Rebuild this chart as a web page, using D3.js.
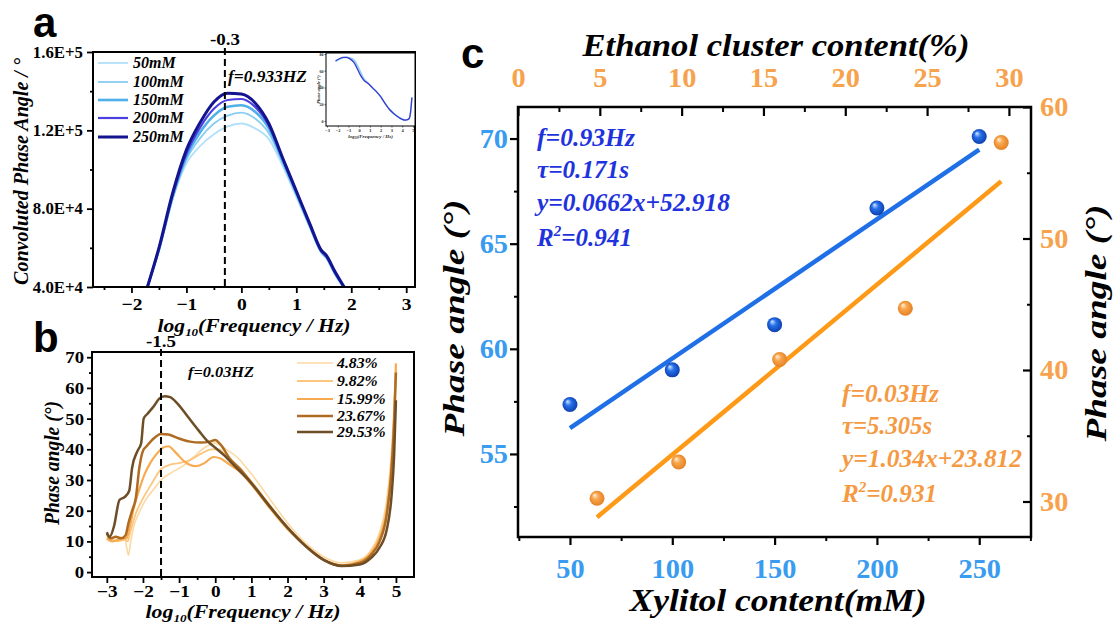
<!DOCTYPE html>
<html>
<head>
<meta charset="utf-8">
<script src="https://cdn.jsdelivr.net/npm/d3@7/dist/d3.min.js"></script>
<style>
html,body{margin:0;padding:0;background:#fff;}
svg{display:block;}
</style>
</head>
<body>
<svg id="fig" width="1117" height="624"></svg>
<script>
// ================= DATA =================
// Panel a : convoluted phase angle vs log10 f
const aNames = ['50mM','100mM','150mM','200mM','250mM'];
const aLogF  = [-2.0,-1.71,-1.5,-1.25,-1.0,-0.75,-0.5,-0.25,0,0.25,0.5,0.75,1.0,1.25,1.45,1.55,1.7,1.87,2.1];
const a50mM  = [15000,40000,58500,85000,103000,112000,118000,122000,123500,121000,115500,102000,86000,70000,57500,54500,46500,39000,28000];
const a100mM = [15000,40000,59000,85500,105000,116000,123500,127500,129000,126000,118500,103500,87000,70500,58000,55000,47000,39300,28000];
const a150mM = [15000,40000,59000,86000,106500,119000,127500,132000,132800,129500,121000,104500,88000,71000,58200,55200,47200,39500,28000];
const a200mM = [15000,40000,59500,87000,108000,121500,131000,135500,136000,132000,122500,105500,88500,71500,58500,55500,47500,39700,28000];
const a250mM = [15000,40000,60000,88000,110000,124000,134500,139000,138500,134000,123500,106000,89000,72000,59000,56000,48000,40000,28000];
const aYTicks  = [40000,80000,120000,160000];
const aYLabels = ['4.0E+4','8.0E+4','1.2E+5','1.6E+5'];
const aYMinor  = [60000,100000,140000];
const aXTicks  = [-2,-1,0,1,2,3];
const aXMinor  = [-2.5,-1.5,-0.5,0.5,1.5,2.5];
const aMarker  = -0.3;

// Panel a inset
const insetLogF  = [-2.2,-1.9,-1.5,-1.2,-0.9,-0.5,-0.2,0.1,0.4,0.8,1.2,1.6,2.0,2.4,2.8,3.2,3.6,4.0,4.3,4.5,4.65,4.75,4.85,4.9];
const insetLight = [71,73.5,75.5,76,75.5,73,67,59,51,45.5,40,35,29,21,14,9,5,2,1,1.5,3,8,20,28];
const insetDark  = [72,74,76,76,74.5,70,63,55,49,45,40,35,29,21,14,9,5,2,1,1.5,3,8,20,28];
const insetXTicks = [-3,-2,-1,0,1,2,3,4,5];
const insetYTicks = [0,20,40,60,80];

// Panel b : phase angle vs log10 f
const bNames = ['4.83%','9.82%','15.99%','23.67%','29.53%'];
const b483  = [[-3,12],[-2.85,11],[-2.65,11.5],[-2.5,11],[-2.45,8],[-2.4,5.5],[-2.35,9],[-2.25,15],[-2.1,19.5],[-1.9,24],[-1.7,27],[-1.5,30],[-1.2,32.5],[-0.9,34.5],[-0.6,37.5],[-0.3,40.5],[0,42],[0.3,40],[0.6,37.5],[1,32],[1.5,24],[2,16],[2.5,9.5],[3,5],[3.5,3],[4,4],[4.3,7],[4.55,13],[4.75,24],[4.87,38],[4.95,55],[5,67]];
const b982  = [[-3,11.5],[-2.85,10.5],[-2.7,10],[-2.5,10.5],[-2.42,10],[-2.35,13],[-2.2,19],[-2.0,24],[-1.8,28],[-1.5,33.5],[-1.25,35],[-1.0,35.5],[-0.7,36.5],[-0.4,38.5],[-0.1,40],[0.1,40],[0.35,37],[0.7,33.5],[1,29.5],[1.5,22],[2,14.5],[2.5,8.5],[3,4],[3.5,2.3],[4,3.5],[4.3,6.5],[4.55,12],[4.75,22],[4.87,36],[4.95,52],[5,66]];
const b1599 = [[-3,11],[-2.85,10],[-2.7,10.5],[-2.55,11],[-2.45,11],[-2.38,14],[-2.25,21],[-2.1,27],[-1.95,32],[-1.8,35.5],[-1.62,38.5],[-1.45,40.5],[-1.3,41],[-1.1,39],[-0.85,36],[-0.55,34.5],[-0.3,35.5],[-0.05,37.5],[0.15,37],[0.4,35],[0.7,32.5],[1,28.5],[1.5,21],[2,14],[2.5,8.5],[3,4],[3.5,2.2],[4,3.5],[4.3,6],[4.55,11],[4.75,20],[4.87,33],[4.95,50],[5,68]];
const b2367 = [[-3,12.5],[-2.9,11],[-2.75,11.5],[-2.6,11],[-2.48,12],[-2.4,16],[-2.3,20],[-2.2,24],[-2.1,34],[-2,39.5],[-1.9,41],[-1.75,43],[-1.5,45],[-1.3,44.8],[-1.0,43.5],[-0.7,42.5],[-0.4,42.2],[-0.15,42.5],[0,43],[0.15,41.5],[0.4,37],[0.7,33.5],[1,29],[1.5,21.5],[2,14.5],[2.5,8.5],[3,4],[3.5,2.1],[4,3],[4.3,5.5],[4.55,10],[4.75,19],[4.87,32],[4.95,48],[5,65]];
const b2953 = [[-3,13],[-2.92,11.5],[-2.8,15],[-2.65,23.5],[-2.5,24.5],[-2.38,26.5],[-2.3,34],[-2.15,39.5],[-2.05,42],[-1.98,50],[-1.88,51.5],[-1.7,54],[-1.55,56.5],[-1.4,57.3],[-1.25,57],[-1.05,55],[-0.75,50.5],[-0.45,46],[-0.2,42.5],[0,40.5],[0.25,38],[0.5,35],[1,29],[1.5,21.5],[2,14.5],[2.5,8.5],[3,4],[3.5,2],[4,2.5],[4.3,4.5],[4.55,8],[4.75,14],[4.88,25],[4.95,38],[5,56]];
const bYTicks = [0,10,20,30,40,50,60,70];
const bYMinor = [5,15,25,35,45,55,65];
const bXTicks = [-3,-2,-1,0,1,2,3,4,5];
const bXMinor = [-2.5,-1.5,-0.5,0.5,1.5,2.5,3.5,4.5];
const bMarker = -1.5;

// Panel c : phase angle vs content
const xylitol      = [50,100,150,200,250];
const phaseXylitol = [57.35,59.0,61.15,66.7,70.1];
const ethanol      = [4.83,9.82,15.99,23.67,29.53];
const phaseEthanol = [30.25,33.0,40.8,44.7,57.3];
const fitXylitol   = [0.0662,52.918];   // slope, intercept
const fitEthanol   = [1.034,23.812];
const cBottomTicks = [50,100,150,200,250];
const cBottomMinor = [25,75,125,175,225,275];
const cTopTicks    = [0,5,10,15,20,25,30];
const cTopMinor    = [2.5,7.5,12.5,17.5,22.5,27.5];
const cLeftTicks   = [55,60,65,70];
const cLeftMinor   = [52.5,57.5,62.5,67.5];
const cRightTicks  = [30,40,50,60];
const cRightMinor  = [35,45,55];
const cBlueText    = ['f=0.93Hz','τ=0.171s','y=0.0662x+52.918','R2=0.941'];
const cOrangeText  = ['f=0.03Hz','τ=5.305s','y=1.034x+23.812','R2=0.931'];

// ================= DRAWING =================
const svg = d3.select('#fig');
const SERIF = '"Liberation Serif","Times New Roman",serif';
const SANS  = '"Liberation Sans",Arial,sans-serif';
const defs = svg.append('defs');

function widen(sel, k){
  sel.each(function(){
    const L = this.getComputedTextLength();
    this.setAttribute('textLength', L*k);
    this.setAttribute('lengthAdjust','spacingAndGlyphs');
  });
  return sel;
}
function styleTicks(g, size, color, k, w){
  g.attr('font-family',null).attr('font-size',null);
  g.select('.domain').remove();
  g.selectAll('.tick line').attr('stroke','#000').attr('stroke-width', w||1.8);
  const t = g.selectAll('.tick text').attr('fill',color)
    .style('font-family',SERIF).style('font-weight','bold').style('font-size',size+'px');
  if(k) widen(t,k);
  return t;
}
function label(p, o){
  const t = p.append('text')
    .attr('transform', `translate(${o.x},${o.y})` + (o.rotate ? ` rotate(${o.rotate})` : ''))
    .attr('text-anchor', o.anchor || 'start')
    .attr('fill', o.color || '#000')
    .style('font-family', o.family || SERIF)
    .style('font-weight', o.weight || 'bold')
    .style('font-style', o.italic ? 'italic' : 'normal')
    .style('font-size', o.size + 'px');
  if(o.parts){
    o.parts.forEach(pt => {
      const ts = t.append('tspan').text(pt.t);
      if(pt.size) ts.style('font-size', pt.size + 'px');
      if(pt.dy) ts.attr('dy', pt.dy);
    });
  } else t.text(o.text);
  if(o.len) t.attr('textLength', o.len).attr('lengthAdjust','spacingAndGlyphs');
  return t;
}
function logTitle(p, x, y, size, len){
  return label(p,{x, y, size, italic:true, anchor:'middle', len,
    parts:[{t:'log'},{t:'10',size:size*0.6,dy:size*0.22},{t:'(Frequency / Hz)',dy:-size*0.22}]});
}

// ---------- Panel a ----------
const A = {l:93, r:415, t:52, b:287};
const ax = d3.scaleLinear().domain([-2.7,3.16]).range([A.l,A.r]);
const ay = d3.scaleLinear().domain([40000,160000]).range([A.b,A.t]);
defs.append('clipPath').attr('id','clipA').append('rect')
  .attr('x',A.l).attr('y',A.t-4).attr('width',A.r-A.l).attr('height',A.b-A.t+4);
const aColors = ['#b2e0f8','#88cdf2','#4fb0ea','#4c3fe0','#14148e'];
const aWidths = [1.8,1.8,2.6,2.2,3];
const aData = [a50mM,a100mM,a150mM,a200mM,a250mM];
const aLine = d3.line().x((d,i)=>ax(aLogF[i])).y(d=>ay(d)).curve(d3.curveMonotoneX);
const aG = svg.append('g');
aG.append('g').attr('clip-path','url(#clipA)').selectAll('path').data(aData).join('path')
  .attr('d', aLine).attr('fill','none')
  .attr('stroke',(d,i)=>aColors[i]).attr('stroke-width',(d,i)=>aWidths[i]);

// dashed marker
aG.append('line').attr('x1',ax(aMarker)).attr('x2',ax(aMarker)).attr('y1',48).attr('y2',A.b)
  .attr('stroke','#000').attr('stroke-width',2).attr('stroke-dasharray','7,4');
label(aG,{x:ax(aMarker), y:45, text:'-0.3', size:16, anchor:'middle', len:30});
label(aG,{x:228, y:82, text:'f=0.933HZ', size:16, italic:true, len:79});

// axes
const aL = aG.append('g').attr('transform',`translate(${A.l},0)`)
  .call(d3.axisLeft(ay).tickValues(aYTicks).tickFormat((d,i)=>aYLabels[i]).tickSize(6).tickPadding(4));
styleTicks(aL,16,'#000',1.05);
aG.append('g').attr('transform',`translate(${A.l},0)`)
  .call(d3.axisLeft(ay).tickValues(aYMinor).tickFormat('').tickSize(3)).call(g=>styleTicks(g,14,'#000'));
const aB = aG.append('g').attr('transform',`translate(0,${A.b})`)
  .call(d3.axisBottom(ax).tickValues(aXTicks).tickFormat(d3.format('d')).tickSize(6));
styleTicks(aB,17,'#000').attr('y',23).attr('dy',null).call(s=>widen(s,1.15));
aG.append('g').attr('transform',`translate(0,${A.b})`)
  .call(d3.axisBottom(ax).tickValues(aXMinor).tickFormat('').tickSize(3)).call(g=>styleTicks(g,14,'#000'));
aG.append('rect').attr('x',A.l).attr('y',A.t).attr('width',A.r-A.l).attr('height',A.b-A.t)
  .attr('fill','none').attr('stroke','#000').attr('stroke-width',2);

// legend a
const aLeg = aG.append('g');
const aLegY = [63,82,100,118,137];
aLeg.selectAll('line').data(aNames).join('line')
  .attr('x1',98).attr('x2',128).attr('y1',(d,i)=>aLegY[i]).attr('y2',(d,i)=>aLegY[i])
  .attr('stroke',(d,i)=>aColors[i]).attr('stroke-width',(d,i)=>aWidths[i]);
aLeg.selectAll('text').data(aNames).join('text')
  .attr('x',133).attr('y',(d,i)=>aLegY[i]+5).text(d=>d)
  .style('font-family',SERIF).style('font-weight','bold').style('font-style','italic').style('font-size','16px');

// titles a
label(aG,{x:28, y:(A.t+A.b)/2+2, text:'Convoluted Phase Angle / °', size:20, italic:true, anchor:'middle', rotate:-90, len:227});
logTitle(aG, 254, 332, 19, 193);
label(aG,{x:33, y:37, text:'a', size:42, family:SANS});

// inset
const I = {l:326, r:415, t:53, b:126};
const ix = d3.scaleLinear().domain([-3.09,5.19]).range([I.l,I.r]);
const iy = d3.scaleLinear().domain([-6,81.2]).range([I.b,I.t]);
const iG = aG.append('g');
iG.append('rect').attr('x',I.l).attr('y',I.t).attr('width',I.r-I.l).attr('height',I.b-I.t)
  .attr('fill','#fff').attr('stroke','#000').attr('stroke-width',1);
const iLine = d3.line().x((d,i)=>ix(insetLogF[i])).y(d=>iy(d)).curve(d3.curveMonotoneX);
iG.append('path').attr('d',iLine(insetLight)).attr('fill','none').attr('stroke','#8fd0f4').attr('stroke-width',1.6);
iG.append('path').attr('d',iLine(insetDark)).attr('fill','none').attr('stroke','#3a3ad0').attr('stroke-width',1.3);
const iB = iG.append('g').attr('transform',`translate(0,${I.b})`)
  .call(d3.axisBottom(ix).tickValues(insetXTicks).tickFormat(d3.format('d')).tickSize(1.5).tickPadding(1));
styleTicks(iB,4.5,'#222',null,0.6);
const iL = iG.append('g').attr('transform',`translate(${I.l},0)`)
  .call(d3.axisLeft(iy).tickValues(insetYTicks).tickSize(1.5).tickPadding(1));
styleTicks(iL,4,'#222',null,0.6);
label(iG,{x:320, y:(I.t+I.b)/2, text:'Phase angle (°)', size:4.5, italic:true, anchor:'middle', rotate:-90, color:'#222'});
label(iG,{x:(I.l+I.r)/2, y:138, parts:[{t:'log'},{t:'10',size:3,dy:1},{t:'(Frequency / Hz)',dy:-1}], size:5, italic:true, anchor:'middle', color:'#222'});

// ---------- Panel b ----------
const B = {l:92, r:414, t:352, b:577};
const bx = d3.scaleLinear().domain([-3.41,5.5]).range([B.l,B.r]);
const by = d3.scaleLinear().domain([-1.6,71.7]).range([B.b,B.t]);
const bColors = ['#fcd9a3','#fbc67e','#f8aa50','#b06b22','#6e4e26'];
const bWidths = [1.6,1.8,2.2,2.5,2.5];
const bData = [b483,b982,b1599,b2367,b2953];
const bLine = d3.line().x(d=>bx(d[0])).y(d=>by(d[1])).curve(d3.curveMonotoneX);
const bG = svg.append('g');
defs.append('clipPath').attr('id','clipB').append('rect')
  .attr('x',B.l).attr('y',B.t).attr('width',B.r-B.l).attr('height',B.b-B.t);
bG.append('g').attr('clip-path','url(#clipB)').selectAll('path').data(bData).join('path')
  .attr('d',bLine).attr('fill','none')
  .attr('stroke',(d,i)=>bColors[i]).attr('stroke-width',(d,i)=>bWidths[i]).attr('stroke-linejoin','round');
bG.append('line').attr('x1',bx(bMarker)).attr('x2',bx(bMarker)).attr('y1',349).attr('y2',B.b)
  .attr('stroke','#000').attr('stroke-width',2).attr('stroke-dasharray','7,4');
label(bG,{x:bx(bMarker), y:347, text:'-1.5', size:16, anchor:'middle', len:30});
label(bG,{x:188, y:377, text:'f=0.03HZ', size:14, italic:true, len:66});

const bL = bG.append('g').attr('transform',`translate(${B.l},0)`)
  .call(d3.axisLeft(by).tickValues(bYTicks).tickFormat(d3.format('d')).tickSize(5).tickPadding(3));
styleTicks(bL,17,'#000',1.1);
bG.append('g').attr('transform',`translate(${B.l},0)`)
  .call(d3.axisLeft(by).tickValues(bYMinor).tickFormat('').tickSize(3)).call(g=>styleTicks(g,14,'#000'));
const bB = bG.append('g').attr('transform',`translate(0,${B.b})`)
  .call(d3.axisBottom(bx).tickValues(bXTicks).tickFormat(d3.format('d')).tickSize(6));
styleTicks(bB,16,'#000').attr('y',20).attr('dy',null).call(s=>widen(s,1.2));
bG.append('g').attr('transform',`translate(0,${B.b})`)
  .call(d3.axisBottom(bx).tickValues(bXMinor).tickFormat('').tickSize(3)).call(g=>styleTicks(g,14,'#000'));
bG.append('rect').attr('x',B.l).attr('y',B.t).attr('width',B.r-B.l).attr('height',B.b-B.t)
  .attr('fill','none').attr('stroke','#000').attr('stroke-width',2);

const bLegY = [363,381,399,416,432];
bG.selectAll('line.leg').data(bNames).join('line').attr('class','leg')
  .attr('x1',297).attr('x2',333).attr('y1',(d,i)=>bLegY[i]).attr('y2',(d,i)=>bLegY[i])
  .attr('stroke',(d,i)=>bColors[i]).attr('stroke-width',(d,i)=>bWidths[i]);
bG.selectAll('text.leg').data(bNames).join('text').attr('class','leg')
  .attr('x',337).attr('y',(d,i)=>bLegY[i]+5).text(d=>d)
  .style('font-family',SERIF).style('font-weight','bold').style('font-style','italic').style('font-size','15px')
  .call(s=>widen(s,1.05));

label(bG,{x:59, y:463, text:'Phase angle (°)', size:20, italic:true, anchor:'middle', rotate:-90, len:124});
logTitle(bG, 243, 618, 19, 195);
label(bG,{x:33, y:352, text:'b', size:42, family:SANS});

// ---------- Panel c ----------
const C = {l:518, r:1031, t:107, b:537};
const cxB = d3.scaleLinear().domain([24.6,275.3]).range([C.l,C.r]);
const cxT = d3.scaleLinear().domain([0,31.35]).range([C.l,C.r]);
const cyL = d3.scaleLinear().domain([51.05,71.5]).range([C.b,C.t]);
const cyR = d3.scaleLinear().domain([27.3,60]).range([C.b,C.t]);
const BLUE_TICK = '#3a9cf0', ORANGE_TICK = '#f7a24c';
const cG = svg.append('g');

function sphereGrad(id, c0, c1, c2){
  const g = defs.append('radialGradient').attr('id',id)
    .attr('cx','50%').attr('cy','50%').attr('r','55%').attr('fx','32%').attr('fy','28%');
  g.append('stop').attr('offset','0%').attr('stop-color',c0);
  g.append('stop').attr('offset','40%').attr('stop-color',c1);
  g.append('stop').attr('offset','100%').attr('stop-color',c2);
}
sphereGrad('gBlue','#d6e8ff','#2670ea','#0b3aa8');
sphereGrad('gOrange','#fff2de','#f8a64c','#e27c20');

// fit lines
const xb0 = xylitol[0], xb1 = xylitol[xylitol.length-1];
const xe0 = ethanol[0], xe1 = ethanol[ethanol.length-1];
cG.append('path').attr('d', d3.line()([[cxB(xb0), cyL(fitXylitol[0]*xb0+fitXylitol[1])],[cxB(xb1), cyL(fitXylitol[0]*xb1+fitXylitol[1])]]))
  .attr('stroke','#1f6fe6').attr('stroke-width',4.5).attr('fill','none');
cG.append('path').attr('d', d3.line()([[cxT(xe0), cyR(fitEthanol[0]*xe0+fitEthanol[1])],[cxT(xe1), cyR(fitEthanol[0]*xe1+fitEthanol[1])]]))
  .attr('stroke','#ff9a18').attr('stroke-width',4.5).attr('fill','none');

// points
cG.selectAll('circle.blue').data(xylitol).join('circle').attr('class','blue')
  .attr('cx',d=>cxB(d)).attr('cy',(d,i)=>cyL(phaseXylitol[i])).attr('r',7.5).attr('fill','url(#gBlue)');
cG.selectAll('circle.orange').data(ethanol).join('circle').attr('class','orange')
  .attr('cx',d=>cxT(d)).attr('cy',(d,i)=>cyR(phaseEthanol[i])).attr('r',7.5).attr('fill','url(#gOrange)');

// axes c
const cL = cG.append('g').attr('transform',`translate(${C.l},0)`)
  .call(d3.axisLeft(cyL).tickValues(cLeftTicks).tickFormat(d3.format('d')).tickSize(8).tickPadding(2));
styleTicks(cL,27,BLUE_TICK,1.05,2.2);
cG.append('g').attr('transform',`translate(${C.l},0)`)
  .call(d3.axisLeft(cyL).tickValues(cLeftMinor).tickFormat('').tickSize(4)).call(g=>styleTicks(g,14,'#000',null,2));
const cB = cG.append('g').attr('transform',`translate(0,${C.b})`)
  .call(d3.axisBottom(cxB).tickValues(cBottomTicks).tickFormat(d3.format('d')).tickSize(8));
styleTicks(cB,27,BLUE_TICK,null,2.2).attr('y',41).attr('dy',null).call(s=>widen(s,1.05));
cG.append('g').attr('transform',`translate(0,${C.b})`)
  .call(d3.axisBottom(cxB).tickValues(cBottomMinor).tickFormat('').tickSize(4)).call(g=>styleTicks(g,14,'#000',null,2));
const cT = cG.append('g').attr('transform',`translate(0,${C.t})`)
  .call(d3.axisTop(cxT).tickValues(cTopTicks).tickFormat(d3.format('d')).tickSize(-9));
styleTicks(cT,27,ORANGE_TICK,null,2.2).attr('y',-20).attr('dy',null).call(s=>widen(s,1.05));
cG.append('g').attr('transform',`translate(0,${C.t})`)
  .call(d3.axisTop(cxT).tickValues(cTopMinor).tickFormat('').tickSize(-5)).call(g=>styleTicks(g,14,'#000',null,2));
const cR = cG.append('g').attr('transform',`translate(${C.r},0)`)
  .call(d3.axisRight(cyR).tickValues(cRightTicks).tickFormat(d3.format('d')).tickSize(-8).tickPadding(9));
styleTicks(cR,27,ORANGE_TICK,1.05,2.2);
cG.append('g').attr('transform',`translate(${C.r},0)`)
  .call(d3.axisRight(cyR).tickValues(cRightMinor).tickFormat('').tickSize(-4)).call(g=>styleTicks(g,14,'#000',null,2));
cG.append('rect').attr('x',C.l).attr('y',C.t).attr('width',C.r-C.l).attr('height',C.b-C.t)
  .attr('fill','none').attr('stroke','#000').attr('stroke-width',2.5);

// annotations
function annot(lines, x, ys, lens, color){
  lines.forEach((s,i)=>{
    const o = {x, y:ys[i], size:25, italic:true, color, len:lens[i]};
    if(s.startsWith('R2')) o.parts = [{t:'R'},{t:'2',size:15,dy:-10},{t:s.slice(2),dy:10}];
    else o.text = s;
    label(cG,o);
  });
}
annot(cBlueText, 537, [146,178,211,246], [98,92,193,95], '#1f33dd');
annot(cOrangeText, 842, [402,434,467,502], [97,90,180,95], '#f59a42');

// titles c
label(cG,{x:776, y:56, text:'Ethanol cluster content(%)', size:32, italic:true, anchor:'middle', len:387});
label(cG,{x:778, y:611, text:'Xylitol content(mM)', size:32, italic:true, anchor:'middle', len:297});
label(cG,{x:464, y:318, text:'Phase angle (°)', size:30, italic:true, anchor:'middle', rotate:-90, len:237});
label(cG,{x:1106, y:323, text:'Phase angle (°)', size:30, italic:true, anchor:'middle', rotate:-90, len:237});
label(cG,{x:461, y:68, text:'c', size:42, family:SANS});
</script>
</body>
</html>
